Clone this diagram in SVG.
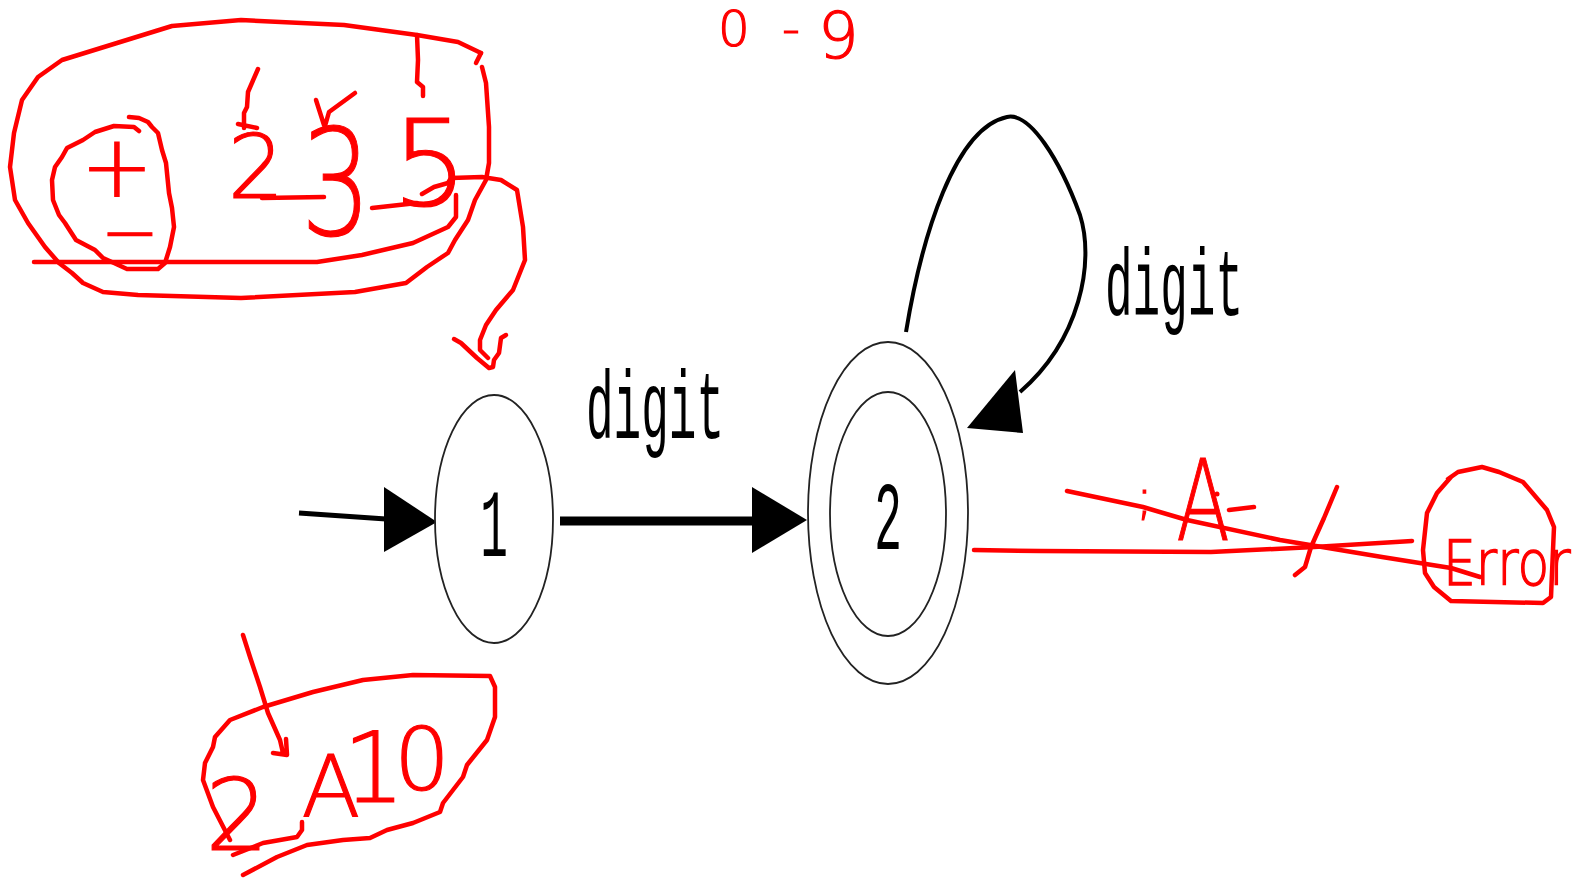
<svg xmlns="http://www.w3.org/2000/svg" width="1577" height="879" viewBox="0 0 1577 879">
<style>
.st{fill:#fff;stroke:#222;stroke-width:1.8}
.lbl{font-family:"Liberation Mono","DejaVu Sans Mono",monospace;font-size:46px;fill:#000}
.ink{fill:none;stroke:#f00;stroke-width:4.5;stroke-linecap:round;stroke-linejoin:round}
.hw{font-family:"DejaVu Sans","Liberation Sans",sans-serif;font-weight:200;fill:#f00;stroke:#f00;stroke-width:1.2}
</style>
<rect width="1577" height="879" fill="#fff"/>
<g id="edges">
  <path d="M299,513 L386,519" stroke="#000" stroke-width="5" fill="none"/>
  <polygon points="384,487 437,522 384,552" fill="#000"/>
  <path d="M560,521 L755,521" stroke="#000" stroke-width="9" fill="none"/>
  <polygon points="752,487 807,520 752,553" fill="#000"/>
  <text class="lbl" transform="translate(586,438) scale(1,2.1)">digit</text>
  <path d="M906,332 C922,235 955,128 1007,117 C1030,112 1060,160 1080,215 C1095,262 1080,340 1020,392" stroke="#000" stroke-width="4" fill="none"/>
  <polygon points="1015,370 1023,433 967,428" fill="#000"/>
  <text class="lbl" transform="translate(1105,315) scale(1,2.05)">digit</text>
</g>
<g id="state1">
  <ellipse class="st" cx="494" cy="519" rx="59" ry="124"/>
  <text class="lbl" text-anchor="middle" transform="translate(494,556) scale(1,2.1)">1</text>
</g>
<g id="state2">
  <ellipse class="st" cx="888" cy="513" rx="80" ry="171"/>
  <ellipse class="st" cx="888" cy="514" rx="58" ry="122"/>
  <text class="lbl" text-anchor="middle" transform="translate(888,549) scale(1,2.1)">2</text>
</g>
<g id="annotations">
  <path class="ink" d="M481,53 L458,42 L417,35 L344,25 L241,20 L172,26 L117,43 L62,60 L38,77 L22,100 L14,133 L10,167 L15,200 L28,223 L45,247 L59,263 L72,273 L83,283 L103,292 L138,295 L241,298 L355,292 L406,283 L427,267 L448,253 L455,240 L468,220 L475,200 L486,180 L489,163 L489,127 L486,83 L482,67"/>
  <path class="ink" d="M481,53 L476,63"/>
  <path class="ink" d="M34,262 L317,262 L362,255 L413,243 L448,227 L456,217 L456,195"/>
  <path class="ink" d="M417,35 L418,60 L417,82 L423,87 L423,96"/>
  <path class="ink" d="M139,131 L134,127 L114,126 L95,132 L83,140 L67,148 L62,157 L55,167 L52,180 L53,200 L59,215 L65,223 L76,240 L95,250 L103,258 L114,263 L127,269 L158,269 L165,263 L170,247 L174,227 L172,208 L169,193 L166,163 L162,150 L158,133 L152,127 L148,122 L139,118 L129,117"/>
  <text class="hw" text-anchor="middle"><tspan font-size="87" x="117" y="197">+</tspan><tspan font-size="70" x="130" y="256">−</tspan></text>
  <text class="hw" font-size="89" text-anchor="middle" x="256" y="198">2</text>
  <text class="hw" font-size="148" text-anchor="middle" transform="translate(336,235) scale(0.75,1)">3</text>
  <text class="hw" font-size="120" text-anchor="middle" x="430" y="205">5</text>
  <path class="ink" d="M262,198 L324,197"/>
  <path class="ink" d="M372,208 L417,203"/>
  <path class="ink" d="M258,69 L248,92 L247,107 L244,113 L244,128 M238,124 L257,128"/>
  <path class="ink" d="M316,100 L324,125 M355,93 L329,112 L325,126"/>
  <path class="ink" d="M422,194 L434,187 L448,183 L451,178 L482,177 L501,180 L517,190 L523,227 L525,260 L513,290 L496,310 L486,325 L480,340 L480,350 L488,358"/>
  <path class="ink" d="M454,339 L461,343 L477,358 L489,368 L493,367 L494,360 L499,353 L501,338 L506,335"/>
  <text class="hw" font-size="50" y="46"><tspan x="718">0</tspan><tspan x="766"> - </tspan><tspan x="818" y="58" font-size="64">9</tspan></text>
  <path class="ink" d="M243,635 L250,657 L260,687 L268,713 L280,740 L283,753 M286,739 L287,755 L273,753"/>
  <path class="ink" d="M243,875 L277,857 L307,845 L343,840 L370,838 L387,830 L413,823 L440,812 L443,803 L463,777 L467,765 L487,740 L495,717 L495,687 L490,676 L413,675 L363,680 L313,692 L263,707 L230,720 L215,737 L213,747 L205,763 L203,780 L213,807 L230,840"/>
  <path class="ink" d="M233,855 L263,843 L297,837 L302,830 L302,822"/>
  <text class="hw" text-anchor="middle"><tspan font-size="100" x="237" y="850">2</tspan><tspan font-size="86" x="331" y="817">A</tspan><tspan font-size="98" x="374" y="802">1</tspan><tspan font-size="88" x="422" y="790">0</tspan></text>
  <path class="ink" d="M974,550 L1040,551 L1211,552 L1314,547 L1412,541"/>
  <path class="ink" d="M1067,491 L1143,507 L1187,520 L1280,540 L1382,557 L1451,568 L1480,577"/>
  <path class="ink" d="M1337,487 L1324,518 L1311,547 L1305,567 L1295,575"/>
  <text class="hw" font-size="50" x="1136" y="514">;</text>
  <text class="hw" font-size="112" text-anchor="middle" transform="translate(1203,540) scale(0.7,1)">A</text>
  <path class="ink" d="M1229,510 L1254,507"/>
  <circle cx="1217" cy="494" r="2.5" fill="#f00"/>
  <path class="ink" d="M1448,479 L1458,472 L1482,467 L1499,472 L1523,482 L1547,510 L1554,527 L1552,573 L1551,597 L1543,603 L1451,601 L1434,587 L1425,573 L1423,550 L1427,513 L1437,493 L1451,477"/>
  <text class="hw" font-size="52" transform="translate(1443,585) scale(1,1.2)">Error</text>
</g>
</svg>
